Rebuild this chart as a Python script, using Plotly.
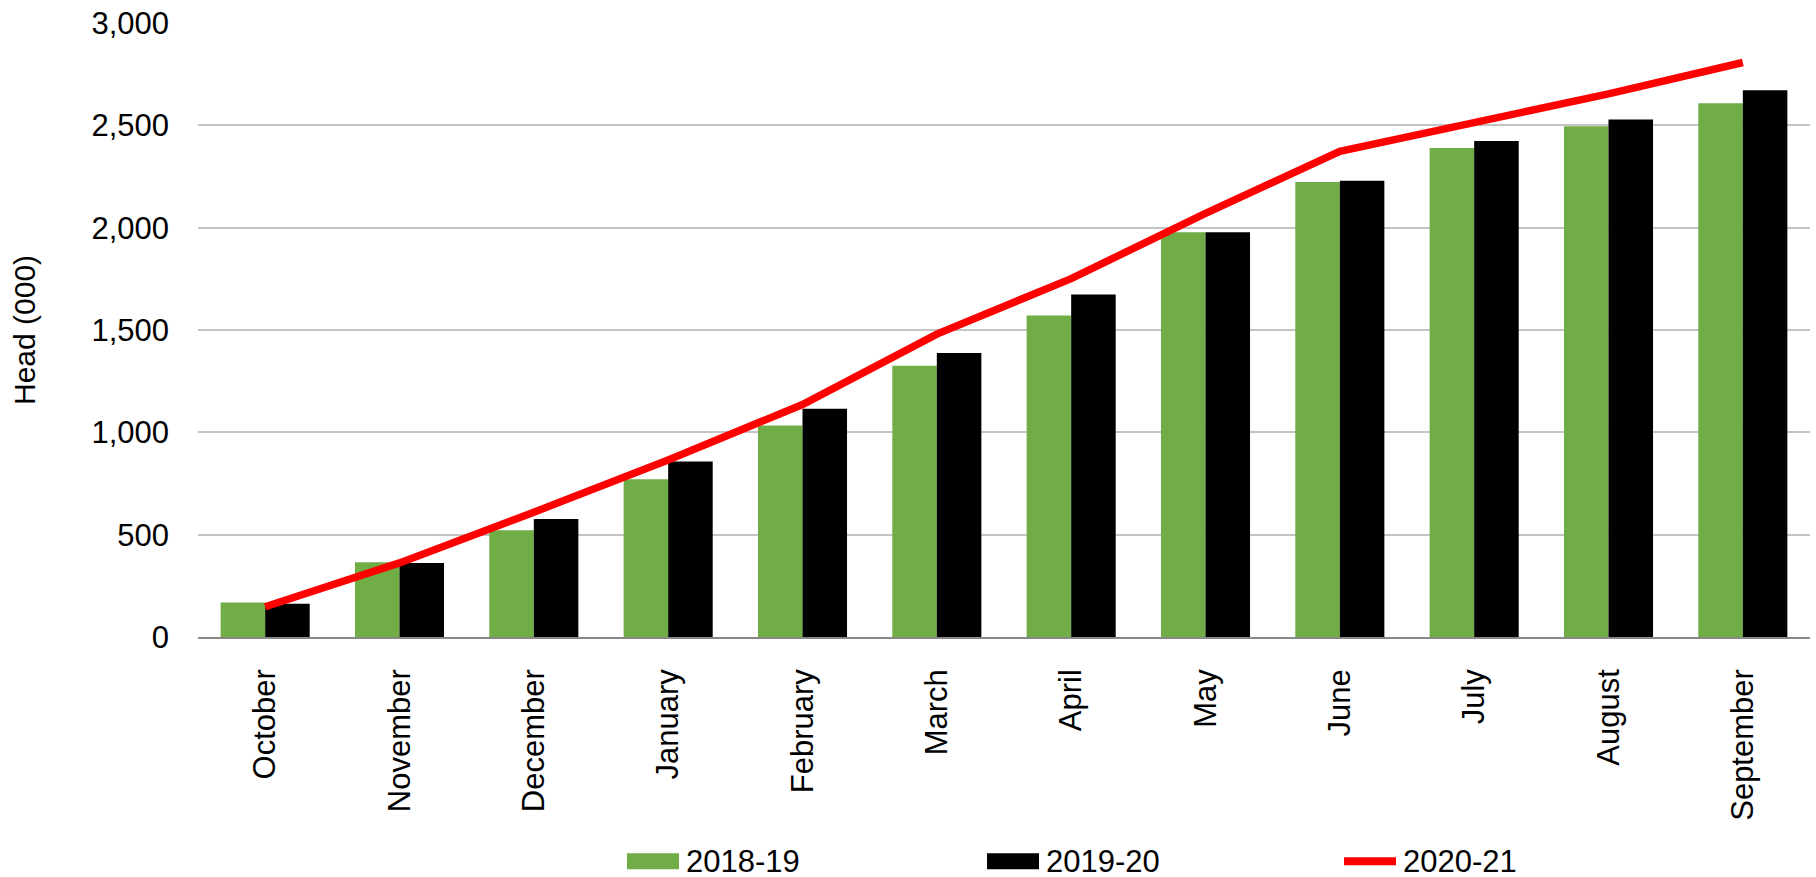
import plotly.graph_objects as go

# Monthly cumulative head counts (thousands)
months = ["October", "November", "December", "January", "February", "March",
          "April", "May", "June", "July", "August", "September"]
head_2018_19 = [168, 365, 521, 771, 1033, 1325, 1571, 1977, 2223, 2389, 2496, 2608]
head_2019_20 = [162, 361, 576, 857, 1115, 1388, 1673, 1977, 2229, 2424, 2528, 2672]
head_2020_21 = [148, 362, 610, 865, 1136, 1480, 1751, 2070, 2373, 2516, 2654, 2807]
y_ticks = [0, 500, 1000, 1500, 2000, 2500, 3000]

GREEN = "#70AD47"
BLACK = "#000000"
RED = "#FF0000"
FONT = "Liberation Sans, Arial, sans-serif"

W, H = 1816, 877
L, R, T, B = 198, 6, 21, 240
plot_w = W - L - R
plot_h = H - T - B

fig = go.Figure()
fig.add_trace(go.Bar(x=months, y=head_2018_19, name="2018-19",
                     marker=dict(color=GREEN, line=dict(width=0))))
fig.add_trace(go.Bar(x=months, y=head_2019_20, name="2019-20",
                     marker=dict(color=BLACK, line=dict(width=0))))
fig.add_trace(go.Scatter(x=months, y=head_2020_21, name="2020-21", mode="lines",
                         line=dict(color=RED, width=7.5)))

fig.update_layout(
    width=W, height=H,
    margin=dict(l=L, r=R, t=T, b=B, pad=0),
    paper_bgcolor="white", plot_bgcolor="white",
    barmode="group", bargap=0.337, bargroupgap=0,
    showlegend=False,
    font=dict(family=FONT, size=31, color="black"),
)
fig.update_xaxes(
    type="category", tickangle=-90, ticks="", ticklabelstandoff=18,
    showline=True, linecolor="#888888", linewidth=1.5,
    showgrid=False, zeroline=False,
    tickfont=dict(family=FONT, size=31, color="black"),
)
fig.update_yaxes(
    range=[0, 3000], tickvals=y_ticks, tickformat=",",
    ticks="", ticklabelstandoff=28,
    showgrid=True, gridcolor="#C4C4C4", gridwidth=1.5,
    showline=False, zeroline=False,
    tickfont=dict(family=FONT, size=31, color="black"),
)

# Axis title
fig.add_annotation(text="Head (000)", xref="paper", yref="paper",
                   x=0, y=0.5, xanchor="center", yanchor="middle",
                   xshift=24 - L, textangle=-90, showarrow=False,
                   font=dict(family=FONT, size=30, color="black"))

# Legend drawn below the axis labels
def px_x(px):
    return (px - L) / plot_w

def px_y(py):
    return (H - B - py) / plot_h

legend_y = 862
legend_items = [
    ("2018-19", "rect", GREEN, 627, 679, 685),
    ("2019-20", "rect", BLACK, 987, 1039, 1045),
    ("2020-21", "line", RED, 1344, 1396, 1402),
]
for label, kind, color, x0, x1, tx in legend_items:
    if kind == "rect":
        fig.add_shape(type="rect", xref="paper", yref="paper",
                      x0=px_x(x0), x1=px_x(x1),
                      y0=px_y(legend_y + 8), y1=px_y(legend_y - 8),
                      fillcolor=color, line=dict(width=0))
    else:
        fig.add_shape(type="line", xref="paper", yref="paper",
                      x0=px_x(x0), x1=px_x(x1),
                      y0=px_y(legend_y), y1=px_y(legend_y),
                      line=dict(color=color, width=8))
    fig.add_annotation(text=label, xref="paper", yref="paper",
                       x=px_x(tx), y=px_y(legend_y),
                       xanchor="left", yanchor="middle", showarrow=False,
                       height=28, borderpad=0, valign="middle",
                       font=dict(family=FONT, size=31, color="black"))

fig.write_html("out.html")
